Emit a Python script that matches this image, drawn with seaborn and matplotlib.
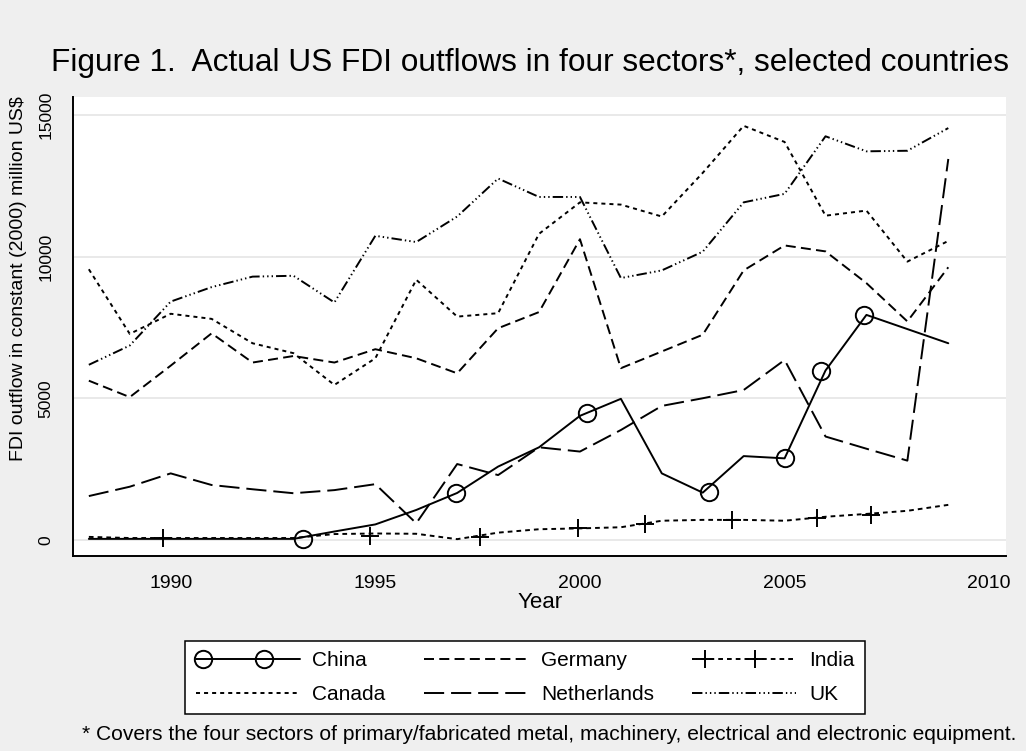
import numpy as np
import matplotlib
matplotlib.use("Agg")
import matplotlib.pyplot as plt
from matplotlib.lines import Line2D
from matplotlib.legend_handler import HandlerLine2D
import seaborn as sns

# ---- data (million US$, constant 2000 prices) ----
years = list(range(1988, 2010))

china = [40, 40, 40, 40, 40, 40, 300, 550, 1060, 1660, 2590, 3270,
         4380, 4980, 2350, 1670, 2960, 2880, 5980, 7940, 7440, 6940]
canada = [9550, 7270, 7980, 7800, 6940, 6590, 5470, 6410, 9180, 7880, 8000, 10800,
          11910, 11830, 11410, 12950, 14610, 14040, 11440, 11620, 9820, 10550]
germany = [5620, 5040, 6150, 7290, 6260, 6490, 6260, 6730, 6410, 5880, 7470, 8040,
           10610, 6060, 6650, 7240, 9510, 10390, 10180, 9060, 7710, 9620]
netherlands = [1550, 1880, 2350, 1940, 1790, 1650, 1760, 1970, 590, 2680, 2290, 3270,
               3120, 3880, 4730, 5000, 5290, 6350, 3650, 3220, 2800, 13440]
india = [110, 70, 70, 70, 70, 70, 210, 230, 220, 30, 260, 380,
         410, 450, 680, 710, 710, 680, 820, 920, 1030, 1240]
uk = [6180, 6860, 8410, 8920, 9290, 9320, 8380, 10730, 10510, 11410, 12750, 12100,
      12100, 9240, 9510, 10170, 11910, 12210, 14240, 13710, 13730, 14530]

# symbol positions along the China and India lines
china_marker_years = [1993.24, 1996.98, 2000.17, 2003.15, 2005.0, 2005.88, 2006.95]
china_marker_vals = [40, 1660, 4490, 1700, 2900, 5970, 7950]
india_marker_years = [1989.82, 1994.88, 1997.56, 1999.96, 2001.59, 2003.72, 2005.8, 2007.1]
india_marker_vals = [70, 150, 120, 410, 560, 690, 770, 880]

x_ticks = [1990, 1995, 2000, 2005, 2010]
y_ticks = [0, 5000, 10000, 15000]
y_tick_labels = ["0", "5000", "10000", "15000"]

title = "Figure 1.  Actual US FDI outflows in four sectors*, selected countries"
y_title = "FDI outflow in constant (2000) million US$"
x_title = "Year"
note = ("* Covers the four sectors of primary/fabricated metal, machinery, "
        "electrical and electronic equipment.")

# ---- style ----
sns.set_style("white")
plt.rcParams["font.family"] = ["Liberation Sans", "DejaVu Sans"]
plt.rcParams["lines.scale_dashes"] = False
for key in ("text.color", "axes.labelcolor", "xtick.color", "ytick.color"):
    plt.rcParams[key] = "black"

BG = "#efefef"
LW = 1.4

fig = plt.figure(figsize=(10.26, 7.51), dpi=100, facecolor=BG)
W, H = 1026, 751
ax = fig.add_axes([73 / W, 1 - 556 / H, (1006 - 73) / W, (556 - 97) / H])
ax.set_facecolor("white")

styles = {
    "China": "-",
    "Canada": (0, (2.9, 2.9)),
    "Germany": (0, (7.2, 3.8)),
    "Netherlands": (0, (14.5, 5.0)),
    "India": (0, (3.4, 2.9)),
    "UK": (0, (7.5, 2.2, 1.0, 2.2, 1.0, 2.2, 1.0, 2.2)),
}
series = {
    "China": china,
    "Canada": canada,
    "Germany": germany,
    "Netherlands": netherlands,
    "India": india,
    "UK": uk,
}

for name, vals in series.items():
    sns.lineplot(x=years, y=vals, ax=ax, color="black", linewidth=LW,
                 linestyle=styles[name], legend=False, zorder=3)

sns.lineplot(x=china_marker_years, y=china_marker_vals, ax=ax, linestyle="none",
             marker="o", markersize=12.5, markerfacecolor="none",
             markeredgecolor="black", markeredgewidth=LW, legend=False, zorder=4)
sns.lineplot(x=india_marker_years, y=india_marker_vals, ax=ax, linestyle="none",
             marker="+", markersize=12.5, markerfacecolor="black",
             markeredgecolor="black", markeredgewidth=LW, legend=False, zorder=4)

# ---- axes ----
ax.set_xlim(1987.613, 2010.41)
ax.set_ylim(-564, 15626)
ax.set_xticks(x_ticks)
ax.set_yticks(y_ticks)
ax.set_yticklabels(y_tick_labels, rotation=90, va="center")
ax.set_xlabel("")
ax.set_ylabel("")
ax.yaxis.grid(True, color="#e3e3e3", linewidth=1.1, zorder=0)
ax.xaxis.grid(False)
ax.set_axisbelow(True)
for side in ("top", "right"):
    ax.spines[side].set_visible(False)
for side in ("left", "bottom"):
    ax.spines[side].set_color("black")
    ax.spines[side].set_linewidth(1.4)
ax.tick_params(axis="both", direction="out", length=8, width=1.1, color="black",
               labelcolor="black")
ax.tick_params(axis="x", labelsize=14, pad=6)
ax.tick_params(axis="y", labelsize=12.5, pad=6)

# ---- texts ----
fig.text(530 / W, 1 - 71 / H, title, ha="center", va="baseline", fontsize=22.8)
fig.text(19 / W, 1 - 279 / H, y_title, ha="center", va="center",
         rotation=90, fontsize=14)
fig.text(540 / W, 1 - 602 / H, x_title, ha="center", va="center", fontsize=16)
fig.text(1016 / W, 1 - 740 / H, note, ha="right", va="baseline", fontsize=15.1)


# ---- legend ----
class KeyWithSymbols(HandlerLine2D):
    """Legend key: a full-width line plus symbols at chosen fractions of it."""

    def __init__(self, fracs=(0.07, 0.66), **kw):
        super().__init__(**kw)
        self.fracs = np.asarray(fracs)

    def create_artists(self, legend, orig_handle, xdescent, ydescent,
                       width, height, fontsize, trans):
        y = (height - ydescent) / 2
        x0 = -xdescent
        line = Line2D([x0, x0 + width], [y, y])
        self.update_prop(line, orig_handle, legend)
        line.set_marker("")
        xm = x0 + width * self.fracs
        symbols = Line2D(xm, np.full_like(xm, y))
        self.update_prop(symbols, orig_handle, legend)
        symbols.set_linestyle("none")
        line.set_transform(trans)
        symbols.set_transform(trans)
        return [line, symbols]


def proxy(name, **kw):
    return Line2D([], [], color="black", linewidth=LW, linestyle=styles[name], **kw)


china_key = proxy("China", marker="o", markersize=12.5, markerfacecolor="none",
                  markeredgewidth=LW)
india_key = proxy("India", marker="+", markersize=12.5, markeredgewidth=LW)
handles = [china_key, proxy("Canada"), proxy("Germany"), proxy("Netherlands"),
           india_key, proxy("UK")]
labels = ["China", "Canada", "Germany", "Netherlands", "India", "UK"]
leg = fig.legend(handles, labels, ncol=3, loc="center",
                 bbox_to_anchor=(525 / W, 1 - 677.5 / H),
                 fontsize=15, frameon=True, fancybox=False, shadow=False,
                 framealpha=1, edgecolor="black", facecolor="white",
                 handlelength=5.0, handletextpad=0.6, columnspacing=1.85,
                 labelspacing=0.7, borderpad=0.5,
                 handler_map={china_key: KeyWithSymbols(),
                              india_key: KeyWithSymbols((0.12, 0.6))})
leg.get_frame().set_linewidth(1.1)
for t in leg.get_texts():
    t.set_color("black")

fig.savefig("out.png", dpi=100, facecolor=BG)
